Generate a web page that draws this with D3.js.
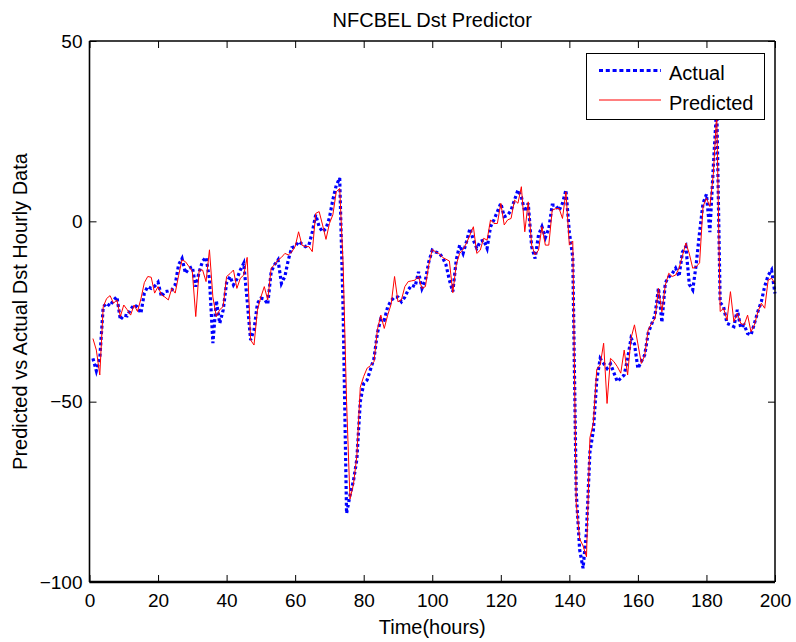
<!DOCTYPE html>
<html>
<head>
<meta charset="utf-8">
<script src="https://cdn.jsdelivr.net/npm/d3@7"></script>
<style>
  html, body { margin: 0; padding: 0; background: #fff; }
  svg { display: block; font-family: "Liberation Sans", Arial, Helvetica, sans-serif; }
</style>
</head>
<body>
<svg id="chart" width="796" height="642"></svg>
<script>
// ---- data (hours 1..200) ----
const hours = d3.range(1, 201);
const actual = [
  -38, -41.5, -38, -23.7, -22.7, -23.5, -21.8, -20.9, -27.3, -26,
  -26.2, -24.4, -23.2, -23.7, -25.5, -19.9, -18.1, -18.6, -18, -16.9,
  -20.9, -19.5, -19.3, -19, -17.6, -12, -10.3, -14.4, -13, -12.6,
  -18.1, -14, -11, -10, -16, -33.8, -22, -28.3, -24.6, -17,
  -15.3, -17.6, -16, -13.5, -11.6, -22, -32.9, -30.1, -22.7, -21.3,
  -21.5, -23, -14, -12, -10.7, -17.2, -15.3, -10.7, -7.3, -7,
  -5.6, -6.3, -7, -6.6, -3, 1.8, -1.5, -2.9, -2, 1,
  6, 10, 12, -25, -81, -76, -72, -66, -50, -45,
  -44, -41, -38, -31, -27, -27.4, -23.7, -22, -21, -21,
  -22.3, -21, -19, -17.7, -18.1, -14, -18.6, -16.3, -11.2, -8,
  -8.5, -8.8, -10, -12, -16.3, -19.5, -10.7, -6.6, -8.9, -5.6,
  -2, -5.2, -7.5, -5.6, -5.2, -7.5, -1.5, 0.4, 2.7, 5,
  1.3, 1.7, 3.1, 5.9, 8.7, 6.8, 2.7, 5, -7, -10.3,
  -3.8, -1.5, -4.5, -2, 4.5, 4.5, 3, 5, 8.7, -3,
  -10, -75, -91, -96.2, -86, -64, -58, -44, -38, -39.4,
  -40.8, -39.5, -42, -44.4, -43.5, -42.6, -38, -32.4, -34, -40.8,
  -38.9, -37, -31, -28.5, -26, -18.5, -28, -17, -15.5, -14.5,
  -13, -15.3, -8.5, -7, -17.5, -19, -12, -3, 5, 7.5,
  -3, 15, 32, -22.5, -23.7, -28.3, -28.7, -29.2, -24.5, -29.5,
  -28.7, -31.1, -31.5, -28.3, -25, -22.3, -18, -15, -13.5, -20
];
const predicted = [
  -32.5, -35.7, -42.6, -23.7, -21.4, -20.6, -22.7, -21.8, -26.4, -23.2,
  -24.5, -26, -23.2, -25, -21.5, -17, -15.3, -15.5, -19.9, -18.1,
  -20.4, -21, -21.8, -18.6, -19.9, -15, -10.7, -11.2, -12.5, -13.9,
  -26.4, -13.5, -13.5, -16.7, -7.9, -21, -26.4, -24.5, -23.6, -15.3,
  -14.5, -13.5, -18.6, -15.8, -14.9, -10, -32.9, -34.3, -24.6, -21,
  -18.1, -21.8, -13, -12, -10.7, -10, -8.9, -9.3, -8.5, -7,
  -2.9, -6.6, -7, -7, -8.4, 2.2, 2.7, -1, -5, -0.6,
  1.8, 8.2, 9.1, -12, -50, -77, -73, -65, -46, -43,
  -40.7, -40, -38.9, -30, -26, -29.7, -26, -23, -15.3, -22.3,
  -21.8, -18.1, -16.7, -16.5, -16.3, -15.3, -18.6, -18.1, -12, -7.8,
  -8.5, -8.9, -10, -10.5, -11, -19.8, -12, -8.9, -7.8, -6,
  -3.8, -1.5, -8.9, -8, -4.7, -5.2, 0.4, -0.6, -0.6, 5,
  -1, 0.4, 0.8, 5.9, 5, 9.6, -2.9, 5.4, -6.6, -9.3,
  -8, -1.5, -6.6, -6.6, 3.1, 3.5, 3.6, 0.8, 8.2, -6.6,
  -5.5, -78, -88, -90, -93, -60, -56, -41, -39.8, -33.8,
  -50.5, -38, -38.9, -40.3, -42.1, -35.7, -42.6, -32.4, -28.7, -34,
  -39.4, -37.1, -30.1, -28.3, -27, -18.6, -25.1, -17.7, -14.4, -15.3,
  -14.9, -13, -9.5, -6, -9, -13, -12.6, -11.5, 4.1, 6.4,
  4.1, 13, 30, -25, -24.1, -27.4, -19.5, -27.8, -25.5, -28.3,
  -28.7, -26, -30.6, -28.7, -25.1, -22.7, -24.1, -16.3, -15.8, -17.2
];
const xTicks = [0, 20, 40, 60, 80, 100, 120, 140, 160, 180, 200];
const yTicks = [-100, -50, 0, 50];
const titleText = "NFCBEL Dst Predictor";
const xLabelText = "Time(hours)";
const yLabelText = "Predicted vs Actual Dst Hourly Data";
const seriesNames = ["Actual", "Predicted"];

// ---- layout ----
const L = 89.5, R = 775, T = 41, B = 582;
const svg = d3.select("#chart");
const x = d3.scaleLinear().domain([0, 200]).range([L, R]);
const y = d3.scaleLinear().domain([-100, 50]).range([B, T]);

svg.append("rect").attr("width", 796).attr("height", 642).attr("fill", "#fff");

// lines
const line = (vals) => d3.line().x((d, i) => x(hours[i])).y(d => y(d))(vals);
svg.append("path").attr("d", line(actual))
  .attr("fill", "none").attr("stroke", "#0000ff").attr("stroke-width", 3.2)
  .attr("stroke-dasharray", "3,2.6");
svg.append("path").attr("d", line(predicted))
  .attr("fill", "none").attr("stroke", "#ff0000").attr("stroke-width", 1);

// axes via d3 (labels), ticks inward
const gx = svg.append("g").attr("transform", `translate(0,${B})`)
  .call(d3.axisBottom(x).tickValues(xTicks).tickSize(-7).tickPadding(11).tickFormat(d3.format("d")));
const gy = svg.append("g").attr("transform", `translate(${L},0)`)
  .call(d3.axisLeft(y).tickValues(yTicks).tickSize(-7).tickPadding(7).tickFormat(d3.format("d")));
const gxt = svg.append("g").attr("transform", `translate(0,${T})`)
  .call(d3.axisTop(x).tickValues(xTicks).tickSize(-7).tickFormat(""));
const gyr = svg.append("g").attr("transform", `translate(${R},0)`)
  .call(d3.axisRight(y).tickValues(yTicks).tickSize(-7).tickFormat(""));
[gx, gy, gxt, gyr].forEach(g => {
  g.select(".domain").remove();
  g.selectAll(".tick line").attr("stroke", "#000").attr("stroke-width", 1);
  g.selectAll("text").attr("fill", "#000").attr("font-size", 19)
    .attr("font-family", "Liberation Sans, Arial, sans-serif");
});
gx.selectAll("text").attr("dy", null).attr("y", 25);

// box
svg.append("line").attr("x1", L).attr("x2", L).attr("y1", T).attr("y2", B).attr("stroke", "#000").attr("stroke-width", 1.6);
svg.append("line").attr("x1", L).attr("x2", R).attr("y1", B).attr("y2", B).attr("stroke", "#000").attr("stroke-width", 2.4);
svg.append("line").attr("x1", L).attr("x2", R).attr("y1", T).attr("y2", T).attr("stroke", "#000").attr("stroke-width", 1.3);
svg.append("line").attr("x1", R).attr("x2", R).attr("y1", T).attr("y2", B).attr("stroke", "#000").attr("stroke-width", 1.5);

// title & labels
svg.append("text").attr("x", (L + R) / 2).attr("y", 27).attr("text-anchor", "middle")
  .attr("font-size", 20).attr("fill", "#000").text(titleText);
svg.append("text").attr("x", (L + R) / 2).attr("y", 634).attr("text-anchor", "middle")
  .attr("font-size", 20).attr("fill", "#000").text(xLabelText);
svg.append("text").attr("transform", `translate(27,${(T + B) / 2}) rotate(-90)`)
  .attr("text-anchor", "middle").attr("font-size", 20).attr("fill", "#000").text(yLabelText);

// legend
const lg = svg.append("g");
lg.append("rect").attr("x", 586.5).attr("y", 53.5).attr("width", 178).attr("height", 66)
  .attr("fill", "#fff").attr("stroke", "#000").attr("stroke-width", 1);
const legendStyles = [
  { color: "#0000ff", width: 3.2, dash: "4,2.8", y: 70.5 },
  { color: "#ff0000", width: 1, dash: null, y: 100 }
];
seriesNames.forEach((name, i) => {
  const s = legendStyles[i];
  lg.append("line").attr("x1", 599).attr("x2", 661).attr("y1", s.y).attr("y2", s.y)
    .attr("stroke", s.color).attr("stroke-width", s.width).attr("stroke-dasharray", s.dash);
  lg.append("text").attr("x", 669).attr("y", s.y + 9.5).attr("font-size", 20)
    .attr("fill", "#000").text(name);
});
</script>
</body>
</html>
